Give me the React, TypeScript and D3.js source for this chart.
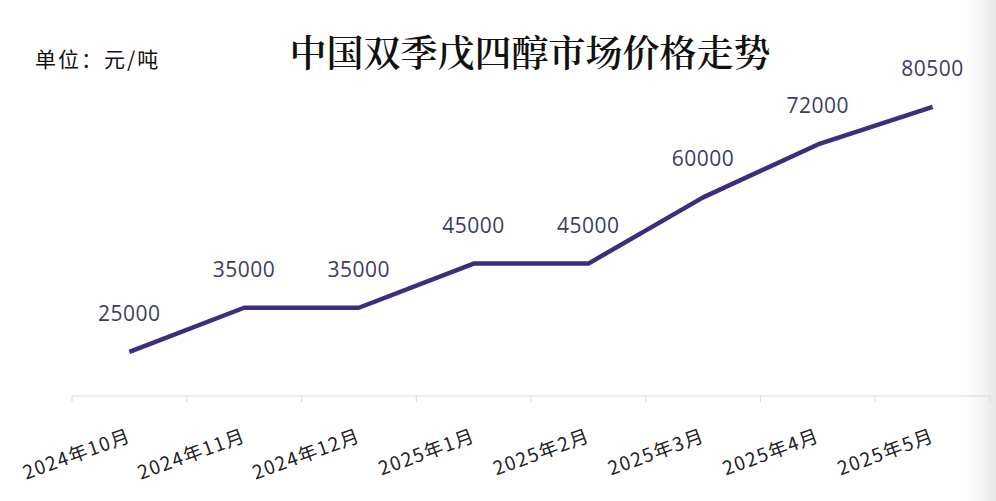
import React from "react";
import * as d3 from "d3";

// Monthly market price of dipentaerythritol in China (yuan per tonne)
const months = [
  "2024年10月",
  "2024年11月",
  "2024年12月",
  "2025年1月",
  "2025年2月",
  "2025年3月",
  "2025年4月",
  "2025年5月",
];
const prices = [25000, 35000, 35000, 45000, 45000, 60000, 72000, 80500];

const title = "中国双季戊四醇市场价格走势";
const unitLabel = "单位：元/吨";

const W = 996;
const H = 501;

export default function App() {
  const x = d3.scaleBand<string>().domain(months).range([72, 990]).padding(0);
  const y = d3.scaleLinear().domain([15000, 90000]).range([396, 65]);

  const data = months.map((m, i) => ({ m, v: prices[i] }));
  const line = d3
    .line<{ m: string; v: number }>()
    .x((d) => (x(d.m) as number) + x.bandwidth() / 2)
    .y((d) => y(d.v));

  const tickXs = [...months.map((m) => x(m) as number), 990];

  return (
    <svg
      width={W}
      height={H}
      style={{ position: "absolute", left: 0, top: 0, display: "block" }}
    >
      <defs>
        <linearGradient id="edgeShade" x1="0" x2="1" y1="0" y2="0">
          <stop offset="0" stopColor="#ffffff" stopOpacity={0} />
          <stop offset="1" stopColor="#e6e6e6" stopOpacity={1} />
        </linearGradient>
      </defs>
      <rect x={0} y={0} width={W} height={H} fill="#ffffff" />
      <rect x={955} y={0} width={41} height={H} fill="url(#edgeShade)" />

      {/* unit note and title */}
      <text
        x={35}
        y={67}
        fontFamily="'Noto Sans CJK SC', sans-serif"
        fontSize={21}
        letterSpacing={2}
        fill="#111"
      >
        {unitLabel}
      </text>
      <text
        x={530}
        y={67}
        textAnchor="middle"
        fontFamily="'Noto Serif CJK SC', 'Noto Sans CJK SC', serif"
        fontWeight={600}
        fontSize={37}
        fill="#111"
      >
        {title}
      </text>

      {/* category axis */}
      <line x1={72} x2={990} y1={396} y2={396} stroke="#dadada" strokeWidth={1} />
      {tickXs.map((tx, i) => (
        <line key={i} x1={tx} x2={tx} y1={396} y2={402} stroke="#dadada" strokeWidth={1} />
      ))}
      {months.map((m) => {
        const cx = (x(m) as number) + x.bandwidth() / 2;
        return (
          <text
            key={m}
            transform={`translate(${cx + 3},${441}) rotate(-20)`}
            textAnchor="end"
            fontFamily="'Noto Sans CJK SC', sans-serif"
            fontSize={19}
            letterSpacing={1.5}
            fill="#222"
          >
            {m}
          </text>
        );
      })}

      {/* price line */}
      <path
        d={line(data) ?? ""}
        fill="none"
        stroke="#3a2f7c"
        strokeWidth={4.5}
        strokeLinejoin="round"
        strokeLinecap="butt"
      />

      {/* value labels */}
      {data.map((d) => (
        <text
          key={d.m}
          x={(x(d.m) as number) + x.bandwidth() / 2}
          y={y(d.v) - 31}
          textAnchor="middle"
          fontFamily="'Open Sans', 'Noto Sans', sans-serif"
          fontSize={21}
          letterSpacing={0.5}
          fill="#3d3d60"
        >
          {d.v}
        </text>
      ))}
    </svg>
  );
}
